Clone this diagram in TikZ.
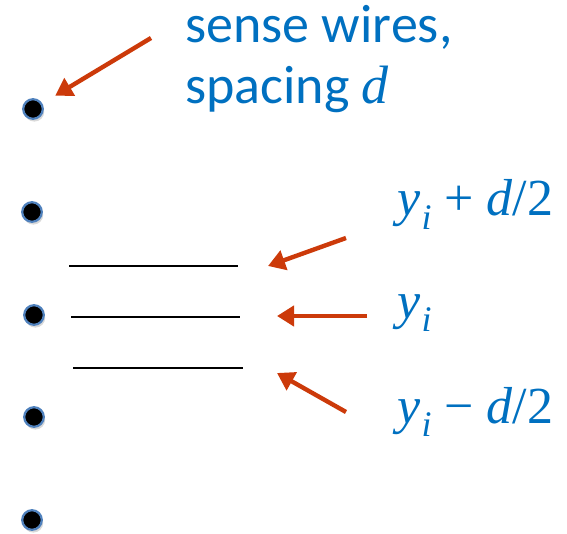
\documentclass[tikz,border=0pt]{standalone}
\usepackage{fontspec}
\setmainfont{Carlito}
\newfontfamily\timesfont{Liberation Serif}
\usetikzlibrary{arrows.meta,shadows}
\definecolor{labelBlue}{HTML}{0070C0}
\definecolor{arrowRed}{HTML}{CC3A0A}
\definecolor{dotRim}{HTML}{4F81BD}
\newcommand{\wirepos}{{\itshape y\kern0.02em\raisebox{-0.25em}{\fontsize{18}{18}\selectfont i}}}

\begin{document}
\begin{tikzpicture}[x=0.5pt, y=-0.5pt,
    wireDot/.style={circle, draw=dotRim, line width=1.1pt, fill=black, minimum size=9.8pt, inner sep=0pt, drop shadow={shadow xshift=0.7pt, shadow yshift=-1.4pt, opacity=0.3}},
    senseLine/.style={line width=1.1pt, draw=black},
    arrowStyle/.style={-{Triangle[length=8.5pt, width=10pt]}, line width=2.2pt, draw=arrowRed},
    senseLabel/.style={text=labelBlue, font=\fontsize{27}{30.5}\selectfont, align=left, inner sep=0pt},
    mathLabel/.style={text=labelBlue, font=\fontsize{26}{26}\selectfont\timesfont, inner sep=0pt}
]
    \useasboundingbox (0,0) rectangle (567,534);

    % sense wires
    \node[wireDot] (wire1) at (33,109) {};
    \node[wireDot] (wire2) at (32,212) {};
    \node[wireDot] (wire3) at (34,315) {};
    \node[wireDot] (wire4) at (34,417) {};
    \node[wireDot] (wire5) at (32,520) {};

    % track positions
    \coordinate (upStart) at (69,266);
    \coordinate (upEnd) at (238,266);
    \coordinate (midStart) at (71,317);
    \coordinate (midEnd) at (240,317);
    \coordinate (lowStart) at (73,368);
    \coordinate (lowEnd) at (243,368);
    \draw[senseLine] (upStart) -- (upEnd);
    \draw[senseLine] (midStart) -- (midEnd);
    \draw[senseLine] (lowStart) -- (lowEnd);

    \node[senseLabel, anchor=base west] (senseText) at (185,104) {sense wires,\\spacing {\timesfont\itshape d}};
    \node[mathLabel, anchor=base west] (upLabel) at (397,216) {\wirepos\hspace{0.25em}+\hspace{0.25em}{\itshape d}/2};
    \node[mathLabel, anchor=base west] (midLabel) at (397,318) {\wirepos};
    \node[mathLabel, anchor=base west] (lowLabel) at (397,423) {\wirepos\hspace{0.25em}\textminus\hspace{0.25em}{\itshape d}/2};

    % arrows
    \coordinate (senseTail) at (151,38);
    \coordinate (upTail) at (346,238);
    \coordinate (upTip) at (268,266);
    \coordinate (midTail) at (367,316);
    \coordinate (midTip) at (277,316);
    \coordinate (lowTail) at (346,412);
    \coordinate (lowTip) at (277,373);
    \draw[arrowStyle, shorten >=7.5pt] (senseTail) -- (wire1);
    \draw[arrowStyle] (upTail) -- (upTip);
    \draw[arrowStyle] (midTail) -- (midTip);
    \draw[arrowStyle] (lowTail) -- (lowTip);
\end{tikzpicture}
\end{document}
